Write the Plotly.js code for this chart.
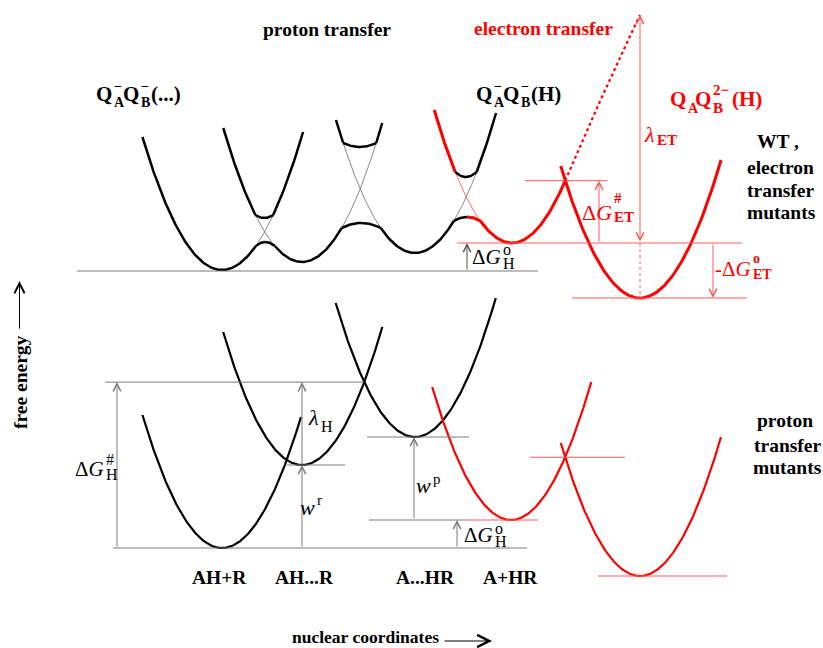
<!DOCTYPE html>
<html><head><meta charset="utf-8">
<script src="https://cdn.plot.ly/plotly-3.0.1.min.js"></script>
<style>html,body{margin:0;padding:0;background:#fff}#chart{width:823px;height:648px}</style>
</head><body><div id="chart"></div>
<script>
// ================= DATA =================
// Upper panel (WT, electron transfer mutants): diabatic free-energy wells
// (coordinate of minimum, free-energy level of minimum [screen units, larger = lower], curvature)
const topWellCenter = [222, 302, 415, 512, 640];
const topWellMin    = [270, 262, 253, 243, 298];
const topWellCurv   = [0.021, 0.0216, 0.0213, 0.022, 0.021];
const topWellLeftTop  = [137, 128, 120, 110, 166];
const topWellRightTop = [132, 123, 113, null, 160];
const topWellIsET   = [false, false, false, true, true];
// avoided crossings between neighbouring upper wells
const cupEndLevel    = [215, 143, 172];
const cupBottomLevel = [218, 147, 177];
const bumpEndLevel   = [246, 228, 221];
const bumpTopLevel   = [242, 223, 217];
const lambdaTopLevel = 15;

// Lower panel (proton transfer mutants)
const botWellCenter = [222, 302, 415, 511, 640];
const botWellMin    = [548, 465, 437, 520, 576];
const botWellCurv   = [0.021, 0.0214, 0.0213, 0.0214, 0.0212];
const botWellLeftTop  = [415, 332, 303, 387, 443];
const botWellRightTop = [417, 327, 298, 382, 437];
const botWellIsET   = [false, false, false, true, true];

// Category labels along nuclear coordinate
const stateLabels = ['AH+R', 'AH...R', 'A...HR', 'A+HR'];

// ================= BUILD =================
const FONT = 'Liberation Serif';
const BLACK = '#000000', RED = '#ff0000', THINRED = '#ff5a5a', GRAY = '#7a7a7a';
const traces = [], shapes = [], annotations = [];

function mkWells(c, m, a) { return c.map((h, i) => ({h: h, k: m[i], a: a[i]})); }
const upW = mkWells(topWellCenter, topWellMin, topWellCurv);
const loW = mkWells(botWellCenter, botWellMin, botWellCurv);
const yOf = (w, x) => w.k - w.a * (x - w.h) * (x - w.h);
const xL = (w, y) => w.h - Math.sqrt((w.k - y) / w.a);
const xR = (w, y) => w.h + Math.sqrt((w.k - y) / w.a);
function cross(wA, wB) {
  let lo = wA.h, hi = wB.h;
  for (let i = 0; i < 60; i++) {
    const mid = (lo + hi) / 2;
    if (yOf(wA, mid) - yOf(wB, mid) > 0) lo = mid; else hi = mid;
  }
  const x = (lo + hi) / 2; return {x: x, y: yOf(wA, x)};
}
function addLine(xs, ys, color, width, dash) {
  traces.push({type: 'scatter', mode: 'lines', x: xs, y: ys, hoverinfo: 'skip',
    line: {color: color, width: width, dash: dash || 'solid'}});
}
function seg(w, x0, x1, color, width, dash) {
  const n = Math.max(2, Math.ceil(Math.abs(x1 - x0))) + 1, xs = [], ys = [];
  for (let j = 0; j < n; j++) { const x = x0 + (x1 - x0) * j / (n - 1); xs.push(x); ys.push(yOf(w, x)); }
  addLine(xs, ys, color, width, dash);
}
function arc(x0, x1, yEnd, yExt, color, width) {
  const n = Math.max(2, Math.ceil(Math.abs(x1 - x0))) + 1, xs = [], ys = [];
  const mid = (x0 + x1) / 2, half = (x1 - x0) / 2;
  for (let j = 0; j < n; j++) { const x = x0 + (x1 - x0) * j / (n - 1); const t = (x - mid) / half;
    xs.push(x); ys.push(yEnd + (yExt - yEnd) * (1 - t * t)); }
  addLine(xs, ys, color, width);
}

// ---- upper panel curves ----
const etCross = cross(upW[3], upW[4]);
upW.forEach((w, i) => {
  const col = topWellIsET[i] ? RED : BLACK, lw = topWellIsET[i] ? 3 : 2.5;
  const thinCol = topWellIsET[i] ? THINRED : GRAY;
  let lowStart, lowEnd;
  if (i >= 1 && i <= 3) {
    const c = i - 1;
    seg(w, xL(w, topWellLeftTop[i]), xL(w, cupEndLevel[c]), col, lw);
    seg(w, xL(w, cupEndLevel[c]), xL(w, bumpEndLevel[c]), thinCol, 0.9);
    lowStart = xL(w, bumpEndLevel[c]);
  } else lowStart = xL(w, topWellLeftTop[i]);
  if (i <= 2) {
    const c = i;
    lowEnd = xR(w, bumpEndLevel[c]);
    seg(w, xR(w, bumpEndLevel[c]), xR(w, cupEndLevel[c]), thinCol, 0.9);
    seg(w, xR(w, cupEndLevel[c]), xR(w, topWellRightTop[i]), col, lw);
  } else if (i === 3) lowEnd = etCross.x;
  else lowEnd = xR(w, topWellRightTop[i]);
  seg(w, lowStart, lowEnd, col, lw);
});
// cups and bumps of avoided crossings
for (let c = 0; c < 3; c++) {
  const wl = upW[c], wr = upW[c + 1];
  arc(xL(wr, cupEndLevel[c]), xR(wl, cupEndLevel[c]), cupEndLevel[c], cupBottomLevel[c], BLACK, 2.5);
  const b0 = xR(wl, bumpEndLevel[c]), b1 = xL(wr, bumpEndLevel[c]), bm = (b0 + b1) / 2;
  const half = (b1 - b0) / 2;
  const bumpY = x => { const t = (x - bm) / half; return bumpEndLevel[c] - (bumpEndLevel[c] - bumpTopLevel[c]) * (1 - t * t); };
  const xsA = [], ysA = [], xsB = [], ysB = [];
  for (let j = 0; j <= 20; j++) { const x = b0 + (bm - b0) * j / 20; xsA.push(x); ysA.push(bumpY(x)); }
  for (let j = 0; j <= 20; j++) { const x = bm + (b1 - bm) * j / 20; xsB.push(x); ysB.push(bumpY(x)); }
  addLine(xsA, ysA, topWellIsET[c] ? RED : BLACK, topWellIsET[c] ? 3 : 2.5);
  addLine(xsB, ysB, topWellIsET[c + 1] ? RED : BLACK, topWellIsET[c + 1] ? 3 : 2.5);
}
// dotted continuation of the reactant ET parabola up to lambda
(function () {
  const w = upW[3], x0 = etCross.x, y0 = etCross.y, X = upW[4].h, D = X - x0;
  const s = -2 * w.a * (x0 - w.h), cc = (lambdaTopLevel - y0 - s * D) / (D * D);
  const xs = [], ys = [];
  for (let j = 0; j <= 40; j++) { const dx = D * j / 40; xs.push(x0 + dx); ys.push(y0 + s * dx + cc * dx * dx); }
  addLine(xs, ys, RED, 2.2, 'dot');
})();

// ---- lower panel curves ----
loW.forEach((w, i) => {
  seg(w, xL(w, botWellLeftTop[i]), xR(w, botWellRightTop[i]), botWellIsET[i] ? RED : BLACK, 2.2);
});

// ---- guide lines ----
function hline(y, x0, x1, color, dash) {
  shapes.push({type: 'line', xref: 'x', yref: 'y', x0: x0, x1: x1, y0: y, y1: y,
    line: {color: color, width: 1, dash: dash || 'solid'}});
}
function vline(x, y0, y1, color, dash) {
  shapes.push({type: 'line', xref: 'x', yref: 'y', x0: x, x1: x, y0: y0, y1: y1,
    line: {color: color, width: 1, dash: dash || 'solid'}});
}
function arrow(x, yTail, yHead, color, both, size) {
  annotations.push({xref: 'x', yref: 'y', axref: 'x', ayref: 'y', x: x, y: yHead, ax: x, ay: yTail,
    text: '', showarrow: true, arrowhead: 5, arrowsize: size || 1.5, arrowwidth: 1, arrowcolor: color,
    standoff: 0, startstandoff: 0, arrowside: both ? 'end+start' : 'end', startarrowhead: 5, startarrowsize: size || 1.5});
}
function harrow(y, xTail, xHead, color, size) {
  annotations.push({xref: 'x', yref: 'y', axref: 'x', ayref: 'y', x: xHead, y: y, ax: xTail, ay: y,
    text: '', showarrow: true, arrowhead: 5, arrowsize: size, arrowwidth: 1.2, arrowcolor: color, standoff: 0, startstandoff: 0});
}
const topBase = upW[0].k + 1;
hline(topBase, 77, 538, GRAY);
hline(etCross.y, 525, 607, THINRED);
hline(upW[3].k, 457, 742, THINRED);
hline(upW[4].k, 572, 747, THINRED);
arrow(467, topBase, upW[3].k, '#555555');
arrow(599, upW[3].k, etCross.y, THINRED);
arrow(upW[4].h, upW[3].k, lambdaTopLevel, THINRED, true);
vline(upW[4].h, upW[3].k, upW[4].k, THINRED, 'dot');
arrow(713, upW[3].k, upW[4].k, THINRED);

const pCross = cross(loW[1], loW[2]);
const etCrossB = cross(loW[3], loW[4]);
hline(loW[0].k, 113, 527, GRAY);
hline(pCross.y, 105, pCross.x, GRAY);
hline(loW[1].k, 287, 345, GRAY);
hline(loW[2].k, 367, 469, GRAY);
hline(loW[3].k, 369, 467, GRAY);
hline(loW[3].k, 467, 538, THINRED);
hline(etCrossB.y, 530, 625, THINRED);
hline(loW[4].k, 598, 727, THINRED);
arrow(117, loW[0].k, pCross.y, GRAY);
arrow(302, loW[1].k, pCross.y, GRAY);
arrow(302, loW[0].k, loW[1].k, GRAY);
arrow(414, loW[3].k, loW[2].k, GRAY);
arrow(457, loW[0].k, loW[3].k, GRAY);

// axis arrows
arrow(19.5, 330, 281, BLACK, false, 2);
harrow(641, 443, 492, BLACK, 2);

// ---- text ----
function txt(s, x, y, color, size, bold, opts) {
  const o = Object.assign({xref: 'x', yref: 'y', x: x, y: y, showarrow: false, borderpad: 0,
    text: bold ? '<b>' + s + '</b>' : s, xanchor: 'center', yanchor: 'middle',
    font: {family: FONT, size: size, color: color}}, opts || {});
  annotations.push(o);
}
const LS = 19.5;
txt('proton transfer', 327, 29, BLACK, LS, true);
txt('electron transfer', 543, 28, RED, LS, true);
txt('WT ,', 778, 141, BLACK, LS, true);
txt('electron', 780, 167, BLACK, LS, true);
txt('transfer', 780, 190, BLACK, LS, true);
txt('mutants', 781, 212, BLACK, LS, true);
txt('proton', 785, 420, BLACK, LS, true);
txt('transfer', 787, 445, BLACK, LS, true);
txt('mutants', 787, 467, BLACK, LS, true);
const stateX = [219, 304, 425, 510];
stateLabels.forEach((s, i) => txt(s, stateX[i], 577, BLACK, LS, true));
txt('nuclear coordinates', 365, 637, BLACK, 17.5, true);
txt('free energy', 20, 382, BLACK, LS, true, {textangle: -90});

// stacked super/subscript labels: main text ends at jx
function stacked(jx, y, main, sup, sub, color, mSize, sSize, mBold, sBold, supDy, subDy) {
  txt(main, jx, y, color, mSize, mBold, {xanchor: 'right'});
  if (sup) txt(sup, jx, y + supDy, color, sSize, sBold, {xanchor: 'left'});
  if (sub) txt(sub, jx, y + subDy, color, sSize, sBold, {xanchor: 'left'});
}
// Q labels
stacked(113, 94, 'Q', '\u2212', 'A', BLACK, 21, 14, true, true, -8, 8);
stacked(140, 94, 'Q', '\u2212', 'B', BLACK, 21, 14, true, true, -8, 8);
txt('(...)', 150, 94, BLACK, 21, true, {xanchor: 'left'});
stacked(493, 94, 'Q', '\u2212', 'A', BLACK, 21, 14, true, true, -8, 8);
stacked(520, 94, 'Q', '\u2212', 'B', BLACK, 21, 14, true, true, -8, 8);
txt('(H)', 530, 94, BLACK, 21, true, {xanchor: 'left'});
stacked(687, 99, 'Q', null, 'A', RED, 21, 14, true, true, -9, 9);
stacked(712, 99, 'Q', '2\u2212', 'B', RED, 21, 15, true, true, -9, 9);
txt('(H)', 731, 99, RED, 21, true, {xanchor: 'left'});
// energy labels
stacked(656, 134, '<i>\u03bb</i>', null, 'ET', RED, 22, 15, false, true, 0, 6);
stacked(613, 212, '\u0394<i>G</i>', '#', 'ET', RED, 22, 15, false, true, -14, 5);
stacked(752, 269, '-\u0394<i>G</i>', 'o', 'ET', RED, 21, 14, false, true, -11, 5);
stacked(502, 257, '\u0394<i>G</i>', 'o', 'H', BLACK, 21, 16, false, false, -8, 6);
stacked(105, 469, '\u0394<i>G</i>', '#', 'H', BLACK, 21, 16, false, false, -10, 5);
stacked(320, 417, '<i>\u03bb</i>', null, 'H', BLACK, 22, 16, false, false, 0, 9);
stacked(316, 507, '<i>w</i>', 'r', null, BLACK, 22, 15, false, false, -7, 0);
stacked(432, 485, '<i>w</i>', 'p', null, BLACK, 22, 15, false, false, -6, 0);
stacked(494, 535, '\u0394<i>G</i>', 'o', 'H', BLACK, 21, 16, false, false, -7, 6);

const layout = {
  width: 823, height: 648, margin: {l: 0, r: 0, t: 0, b: 0},
  paper_bgcolor: '#ffffff', plot_bgcolor: '#ffffff', showlegend: false,
  font: {family: FONT},
  xaxis: {range: [0, 823], visible: false, fixedrange: true},
  yaxis: {range: [648, 0], visible: false, fixedrange: true},
  shapes: shapes, annotations: annotations
};
Plotly.newPlot('chart', traces, layout, {staticPlot: true, displayModeBar: false});
</script></body></html>
